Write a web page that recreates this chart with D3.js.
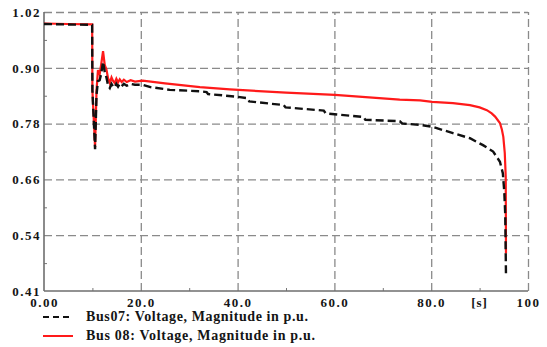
<!DOCTYPE html>
<html>
<head>
<meta charset="utf-8">
<script src="https://cdn.jsdelivr.net/npm/d3@7"></script>
<style>
  body { margin: 0; background: #fff; }
</style>
</head>
<body>
<div id="chart"></div>
<script>
// Bus 07 (black dashed)
const timeBus07 = [0, 5, 9.95, 10.0, 10.55, 10.85, 11.15, 11.5, 11.8, 12.2, 12.55, 12.9, 13.25, 13.6, 13.95, 14.3, 14.6, 14.95,
  15.3, 15.65, 16.05, 16.5, 17.1, 17.9, 18.8, 20.4, 22, 26, 32.2, 33.6, 33.9, 40, 42.0, 42.4, 49.5, 49.9, 57.8, 58.2,
  66, 66.4, 73.5, 74, 77.7, 80.2, 84.5, 88, 90.7, 92.8, 94.2, 94.8, 95.1, 95.3, 95.45];
const voltBus07 = [0.994, 0.993, 0.992, 0.85, 0.722, 0.84, 0.87, 0.872, 0.885, 0.912, 0.89, 0.878, 0.86, 0.855, 0.864, 0.858, 0.856, 0.864,
  0.858, 0.864, 0.859, 0.864, 0.86, 0.864, 0.862, 0.862, 0.857, 0.851, 0.848, 0.846, 0.842, 0.836, 0.833, 0.826, 0.818, 0.813, 0.806, 0.800,
  0.792, 0.786, 0.783, 0.778, 0.775, 0.771, 0.757, 0.746, 0.731, 0.717, 0.695, 0.670, 0.630, 0.580, 0.449];

// Bus 08 (red solid)
const timeBus08 = [0, 5, 9.95, 10.0, 10.55, 10.85, 11.15, 11.5, 11.8, 12.2, 12.55, 12.9, 13.25, 13.6, 13.95, 14.3, 14.6, 14.95,
  15.3, 15.65, 16.05, 16.5, 17.1, 17.9, 18.8, 20.4, 25, 32.2, 38.4, 50, 60.1, 73.5, 77.7, 80.2, 84.5, 88, 90, 91.5,
  92.5, 93.2, 94.2, 94.6, 94.9, 95.2, 95.4, 95.45];
const voltBus08 = [0.995, 0.994, 0.993, 0.85, 0.727, 0.85, 0.894, 0.885, 0.905, 0.935, 0.905, 0.895, 0.876, 0.866, 0.878, 0.87, 0.866, 0.875,
  0.867, 0.874, 0.868, 0.873, 0.868, 0.872, 0.869, 0.871, 0.865, 0.857, 0.852, 0.845, 0.840, 0.830, 0.828, 0.825, 0.822, 0.818, 0.813, 0.807,
  0.800, 0.793, 0.779, 0.765, 0.749, 0.714, 0.662, 0.496];

const xTicks = [0, 20, 40, 60, 80, 100];
const xTickLabels = ["0.00", "20.0", "40.0", "60.0", "80.0", "100"];
const yTicks = [0.4144, 0.5355, 0.6566, 0.7777, 0.8988, 1.02];
const yTickLabels = ["0.41", "0.54", "0.66", "0.78", "0.90", "1.02"];
const legendLabels = ["Bus07: Voltage, Magnitude in p.u.", "Bus 08: Voltage, Magnitude in p.u."];

const W = 547, H = 347;
const plotL = 44, plotR = 528, plotT = 12, plotB = 291;
const serif = "Liberation Serif, Tinos, Times New Roman, Times, Nimbus Roman, FreeSerif, Noto Serif, DejaVu Serif, serif";

const svg = d3.select("#chart").append("svg")
  .attr("width", W).attr("height", H);

const x = d3.scaleLinear().domain([0, 100]).range([plotL, plotR]);
const y = d3.scaleLinear().domain([yTicks[0], yTicks[5]]).range([plotB, plotT]);

// grid
const gx = svg.append("g").attr("transform", `translate(0,${plotB})`)
  .call(d3.axisBottom(x).tickValues(xTicks.slice(1)).tickSize(-(plotB - plotT)).tickFormat(""));
const gy = svg.append("g").attr("transform", `translate(${plotL},0)`)
  .call(d3.axisLeft(y).tickValues(yTicks.slice(1)).tickSize(-(plotR - plotL)).tickFormat(""));
[gx, gy].forEach(g => {
  g.select(".domain").remove();
  g.selectAll("line").attr("stroke", "#8a8a8a").attr("stroke-width", 1.3).attr("stroke-dasharray", "8,4");
});

// minor ticks
svg.append("g").attr("transform", `translate(0,${plotB})`)
  .call(d3.axisBottom(x).tickValues([10, 30, 50, 70, 90]).tickSize(-3).tickFormat(""))
  .call(g => g.select(".domain").remove())
  .selectAll("line").attr("stroke", "#777");
svg.append("g").attr("transform", `translate(${plotL},0)`)
  .call(d3.axisLeft(y).tickValues(d3.pairs(yTicks).map(p => (p[0] + p[1]) / 2)).tickSize(-3).tickFormat(""))
  .call(g => g.select(".domain").remove())
  .selectAll("line").attr("stroke", "#777");

// axis lines
svg.append("line").attr("x1", plotL).attr("x2", plotL).attr("y1", plotT).attr("y2", plotB)
  .attr("stroke", "#6e6e6e").attr("stroke-width", 1.6);
svg.append("line").attr("x1", plotL).attr("x2", plotR).attr("y1", plotB).attr("y2", plotB)
  .attr("stroke", "#6e6e6e").attr("stroke-width", 1.6);

// tick labels
svg.append("g").attr("transform", `translate(0,${plotB})`)
  .call(d3.axisBottom(x).tickValues(xTicks).tickSize(0).tickPadding(7).tickFormat((d, i) => xTickLabels[i]))
  .call(g => g.select(".domain").remove())
  .attr("font-family", serif).attr("font-size", 13).attr("font-weight", "bold")
  .selectAll("text").attr("fill", "#151515").attr("letter-spacing", "1.5px");
svg.append("g").attr("transform", `translate(${plotL},0)`)
  .call(d3.axisLeft(y).tickValues(yTicks).tickSize(0).tickPadding(3).tickFormat((d, i) => yTickLabels[i]))
  .call(g => g.select(".domain").remove())
  .attr("font-family", serif).attr("font-size", 13).attr("font-weight", "bold")
  .selectAll("text").attr("fill", "#151515").attr("letter-spacing", "1.5px");

svg.append("text").attr("x", x(90)).attr("y", plotB + 16).attr("text-anchor", "middle")
  .attr("font-family", serif).attr("font-size", 13).attr("font-weight", "bold")
  .attr("fill", "#151515").attr("letter-spacing", "1px").text("[s]");

// series
const line = d3.line().x(d => x(d[0])).y(d => y(d[1]));
svg.append("path")
  .datum(d3.zip(timeBus08, voltBus08))
  .attr("d", line).attr("fill", "none").attr("stroke", "#ff1a1a").attr("stroke-width", 2.2);
svg.append("path")
  .datum(d3.zip(timeBus07, voltBus07))
  .attr("d", line).attr("fill", "none").attr("stroke", "#111").attr("stroke-width", 2.4)
  .attr("stroke-dasharray", "8,4");

// legend
const legend = svg.append("g");
legend.append("line").attr("x1", 43).attr("x2", 73).attr("y1", 317).attr("y2", 317)
  .attr("stroke", "#111").attr("stroke-width", 2).attr("stroke-dasharray", "6,4");
legend.append("line").attr("x1", 43).attr("x2", 73).attr("y1", 336).attr("y2", 336)
  .attr("stroke", "#ff1a1a").attr("stroke-width", 2);
legend.selectAll("text.leg").data(legendLabels).enter().append("text")
  .attr("class", "leg")
  .attr("x", 86).attr("y", (d, i) => 321 + i * 19)
  .attr("font-family", serif).attr("font-size", 14).attr("font-weight", "bold")
  .attr("fill", "#151515")
  .attr("textLength", (d, i) => [222, 229][i]).attr("lengthAdjust", "spacing")
  .text(d => d);
</script>
</body>
</html>
